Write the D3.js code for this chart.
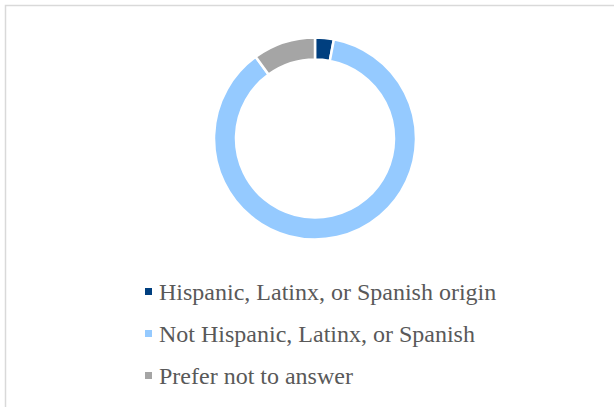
<!DOCTYPE html>
<html>
<head>
<meta charset="utf-8">
<script src="https://cdn.jsdelivr.net/npm/d3@7/dist/d3.min.js"></script>
<style>
  html, body { margin: 0; padding: 0; background: #fff; }
  svg { display: block; }
</style>
</head>
<body>
<svg id="chart" width="614" height="407"></svg>
<script>
// Ethnicity breakdown (percent of respondents)
const categories = [
  "Hispanic, Latinx, or Spanish origin",
  "Not Hispanic, Latinx, or Spanish",
  "Prefer not to answer"
];
const values = [3, 87, 10];
const colors = ["#003f7f", "#95caff", "#a5a5a5"];

const W = 614, H = 407;
const svg = d3.select("#chart");

// chart frame
svg.append("rect")
  .attr("x", 5.5).attr("y", 5.5)
  .attr("width", W + 10).attr("height", H + 10)
  .attr("fill", "#fff")
  .attr("stroke", "#d9d9d9")
  .attr("stroke-width", 1.5);

const cx = 315, cy = 138.5, rOuter = 101, rInner = 79;

const data = categories.map((c, i) => ({ name: c, value: values[i], color: colors[i] }));

const pie = d3.pie().value(d => d.value).sort(null);
const arc = d3.arc().innerRadius(rInner).outerRadius(rOuter);

svg.append("g")
  .attr("transform", `translate(${cx},${cy})`)
  .selectAll("path")
  .data(pie(data))
  .join("path")
  .attr("d", arc)
  .attr("fill", d => d.data.color)
  .attr("stroke", "#fff")
  .attr("stroke-width", 2.5);

// legend
const legend = svg.append("g").attr("transform", "translate(145,0)");
const rowY = d3.scalePoint().domain(categories).range([300, 384]);

const rows = legend.selectAll("g")
  .data(data)
  .join("g")
  .attr("transform", d => `translate(0,${rowY(d.name)})`);

rows.append("rect")
  .attr("x", 0).attr("y", -12)
  .attr("width", 7).attr("height", 7)
  .attr("fill", d => d.color);

rows.append("text")
  .attr("x", 14).attr("y", 0)
  .attr("font-family", "'Liberation Serif', 'Times New Roman', serif")
  .attr("font-size", 24)
  .attr("fill", "#595959")
  .text(d => d.name);
</script>
</body>
</html>
